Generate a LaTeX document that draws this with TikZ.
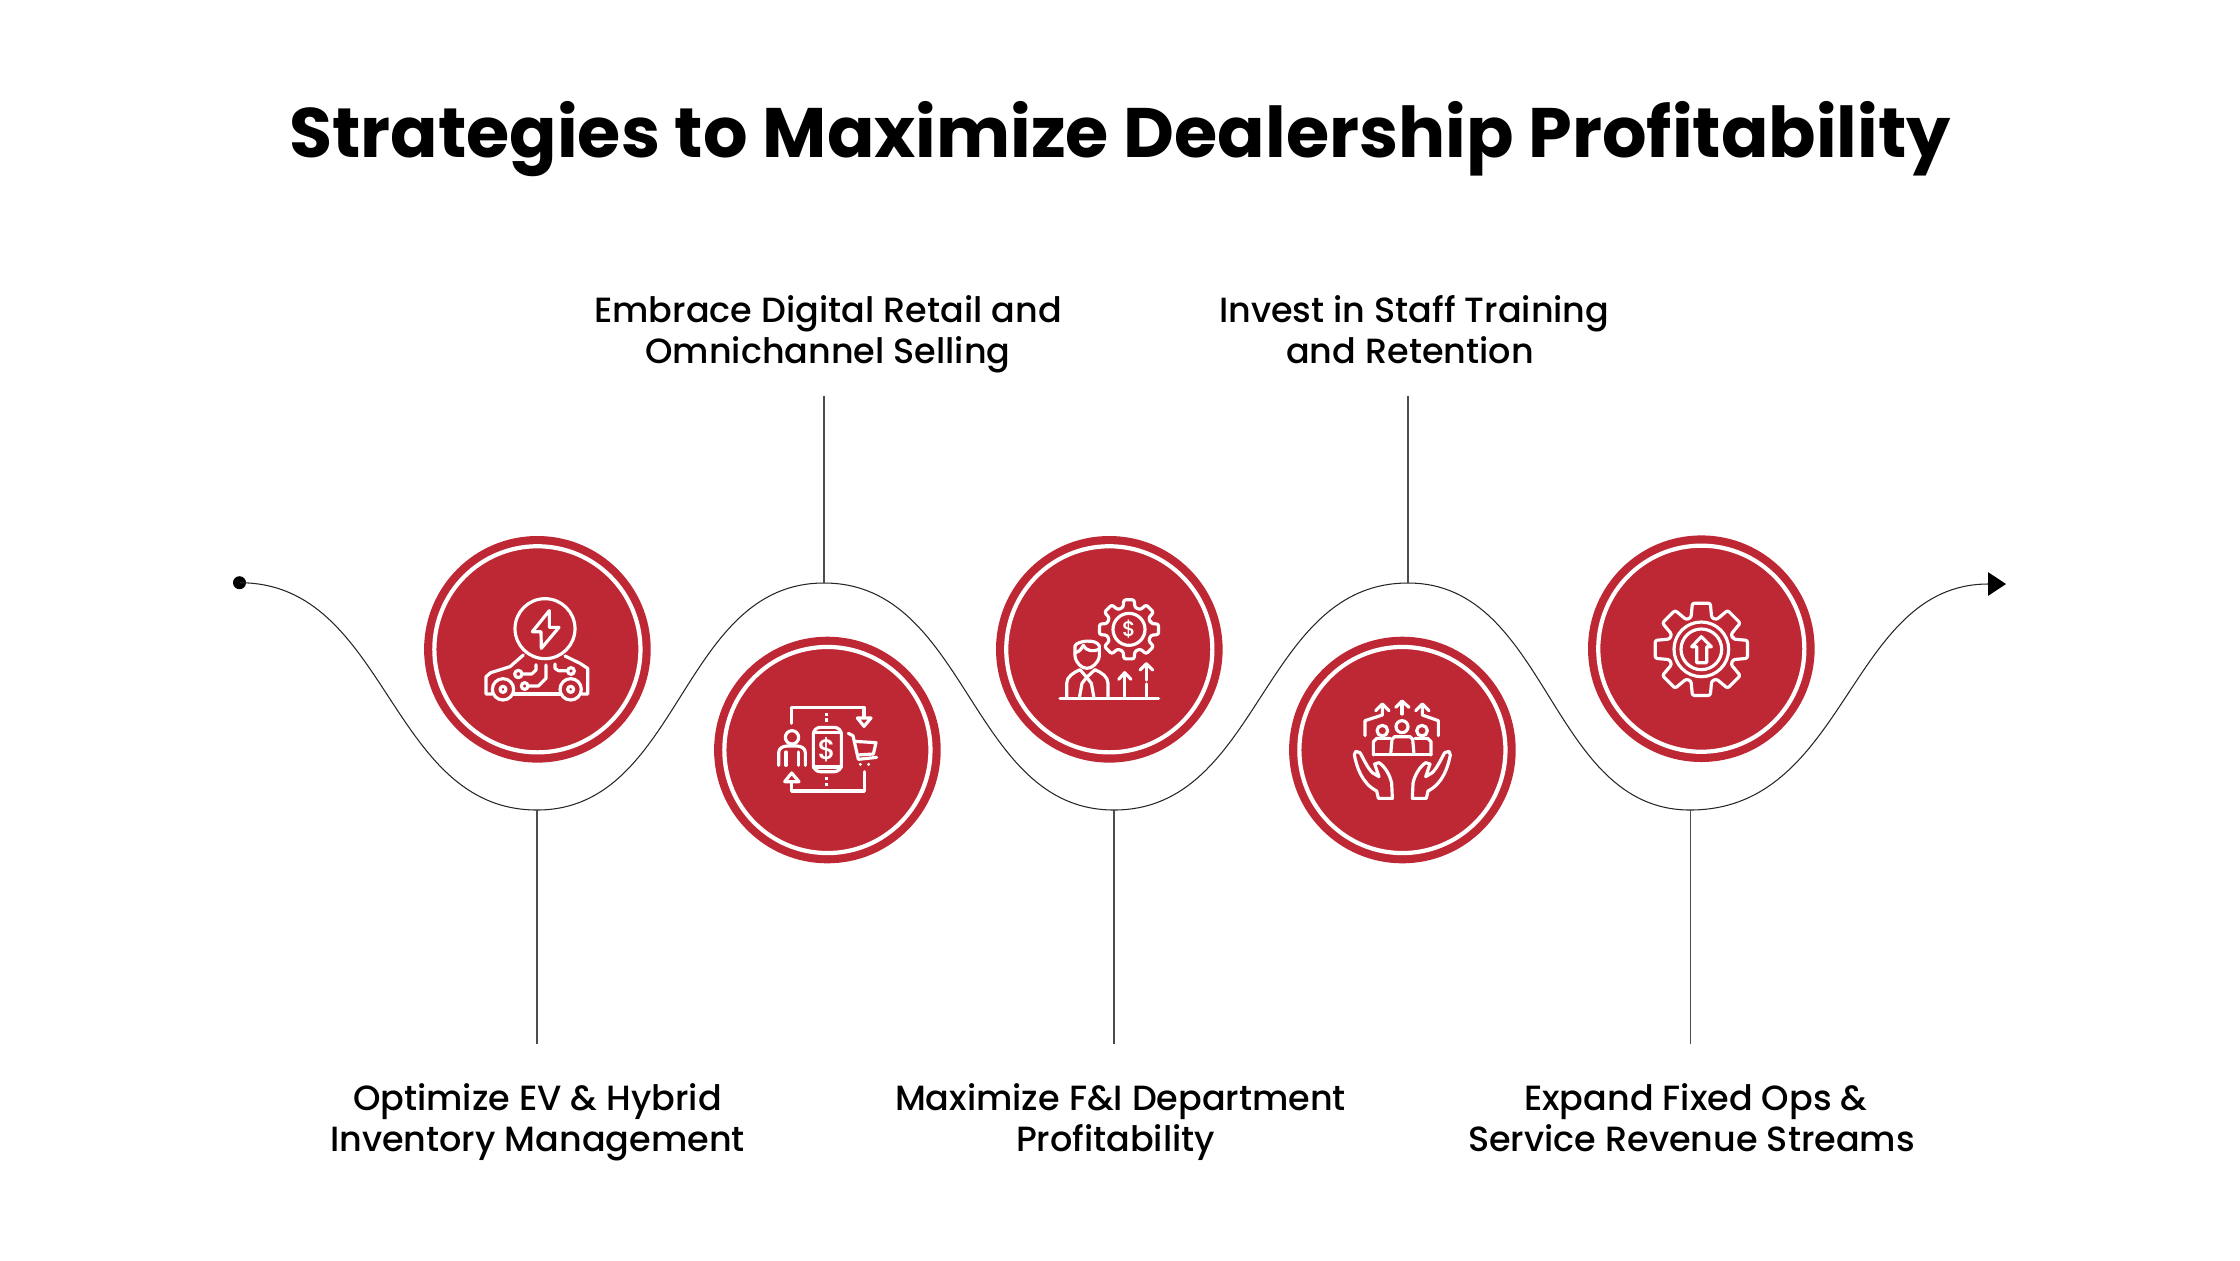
\documentclass[tikz,border=0pt]{standalone}
\usepackage{fontspec}
\setmainfont{Poppins}
\newfontfamily\stepfont{Poppins Medium}
\usetikzlibrary{arrows.meta}
\definecolor{dealred}{HTML}{BE2835}
\tikzset{
	disc/.style={circle, fill=dealred, minimum size=2.265cm, inner sep=0, outer sep=0},
	ring/.style={circle, draw=white, line width=1.2pt, minimum size=2.06cm, inner sep=0, outer sep=0},
	wave/.style={line width=0.3pt, color=black!85},
	stem/.style={line width=0.3pt, color=black!70},
	steptext/.style={align=center, font=\stepfont\fontsize{9.95}{11.6}\selectfont, inner sep=0, text=black},
	icon/.style={draw=white, line width=0.9pt, line join=round, line cap=round},
	glyph/.style={text=white, inner sep=0, font=\stepfont\fontsize{#1}{#1}\selectfont},
}
\def\gear(#1,#2)(#3:#4:#5:#6){
	\draw[icon, rounded corners=0.6pt, shift={(#1,#2)}] (-#5:#4) \foreach \a in {0,45,...,315}{ -- (\a-#5:#4) -- (\a-#6:#3) -- (\a+#6:#3) -- (\a+#5:#4) } -- cycle;
}
\begin{document}
\begin{tikzpicture}[x=0.01cm, y=-0.01cm]
			%%%%% START %%%%%
			\useasboundingbox (0, 0) rectangle (2240, 1260);
			
			\node[font=\bfseries\fontsize{19.91}{24}\selectfont, inner sep=0] (title) at (1120, 139) {Strategies to Maximize Dealership Profitability};
			
			\node[circle, fill=black, minimum size=0.13cm, inner sep=0] (dot) at (239.5, 582.7) {};
			\coordinate (low1) at (537, 810);
			\coordinate (top1) at (824, 583);
			\coordinate (low2) at (1114, 810);
			\coordinate (top2) at (1408, 583);
			\coordinate (low3) at (1690, 810);
			\coordinate (tip) at (2006, 584);
			
			\draw[wave, -{Triangle[length=0.18cm, width=0.235cm, black]}] (dot.center) .. controls +(149, 0) and +(-149, 0) .. (low1) .. controls +(144, 0) and +(-144, 0) .. (top1) .. controls +(145, 0) and +(-145, 0) .. (low2) .. controls +(147, 0) and +(-147, 0) .. (top2) .. controls +(141, 0) and +(-141, 0) .. (low3) .. controls +(158, 0) and +(-158, 0) .. (tip);
			
			\coordinate (foot1) at (537, 1044);
			\coordinate (head2) at (824, 396);
			\coordinate (foot3) at (1114, 1044);
			\coordinate (head4) at (1408, 396);
			\coordinate (foot5) at (1690, 1044);
			\draw[stem] (low1) -- (foot1);
			\draw[stem] (top1) -- (head2);
			\draw[stem] (low2) -- (foot3);
			\draw[stem] (top2) -- (head4);
			\draw[stem] (low3) -- (foot5);
			
			\node[steptext] (text1) at (537.5, 1122) {Optimize EV \& Hybrid\\Inventory Management};
			\node[steptext] (text2) at (828, 334) {Embrace Digital Retail and\\Omnichannel Selling};
			\node[steptext] (text3) at (1115.5, 1122) {\hspace*{0.1cm}Maximize F\&I Department\\Profitability};
			\node[steptext] (text4) at (1410, 329.6) {\hspace*{0.086cm}Invest in Staff Training\\and Retention};
			\node[steptext] (text5) at (1691.5, 1118) {\hspace*{0.086cm}Expand Fixed Ops \&\\Service Revenue Streams};
			
			\foreach \n/\x/\y in {1/537.4/649.3, 2/827.4/750, 3/1109.3/649.3, 4/1402.4/750, 5/1701.3/648.7}{
				\node[disc] (disc\n) at (\x, \y) {};
				\node[ring] (ring\n) at (\x, \y) {};
			}
			
			% car
			\begin{scope}[shift={(410, 520)}, scale=1/3]
				\draw[icon] (405, 326) circle (90);
				\draw[icon] (418, 272) -- (367, 335) -- (393, 335) -- (394, 385) -- (447, 322) -- (418, 322) -- cycle;
				\draw[icon] (340, 405) -- (300, 440) -- (242, 458) -- (228, 470) -- (228, 522) -- (246, 522);
				\draw[icon] (311, 522) -- (449, 522);
				\draw[icon] (515, 522) -- (533, 522) -- (533, 445) -- (510, 430) -- (465, 408);
				\draw[icon] (279, 508) circle (32);
				\draw[icon] (279, 508) circle (9);
				\draw[icon] (482, 508) circle (32);
				\draw[icon] (482, 508) circle (9);
				\draw[icon] (325, 462) circle (11);
				\draw[icon] (336, 462) -- (365, 462) -- (378, 450) -- (378, 434);
				\draw[icon] (344, 498) circle (10);
				\draw[icon] (354, 498) -- (385, 498) -- (408, 475) -- (408, 435);
				\draw[icon] (435, 432) -- (435, 445) -- (445, 452) -- (472, 452);
				\draw[icon] (483, 453) circle (10);
			\end{scope}
			
			% phone and cart
			\begin{scope}[shift={(700, 620)}, scale=1/3]
				\draw[icon] (275, 310) -- (275, 262) -- (492, 262) -- (492, 292);
				\draw[icon] (472, 294) -- (513, 294) -- (492, 319) -- cycle;
				\draw[icon] (493, 455) -- (493, 513) -- (275, 513) -- (275, 485);
				\draw[icon] (254, 485) -- (297, 485) -- (275, 459) -- cycle;
				\foreach \y in {283, 300, 475, 493}{
					\fill[white] (376, \y-5) rectangle (385, \y+5);
				}
				\draw[icon] (276, 352) circle (20);
				\draw[icon] (236, 436) -- (236, 398) .. controls (236, 385) and (248, 378) .. (262, 378) -- (290, 378) .. controls (304, 378) and (316, 385) .. (316, 398) -- (316, 436);
				\draw[icon] (258, 436) -- (258, 396);
				\draw[icon] (295, 436) -- (295, 396);
				\draw[icon, rounded corners=2pt] (340, 322) rectangle (424, 455);
				\draw[icon] (340, 338) -- (424, 338);
				\draw[icon] (340, 441) -- (424, 441);
				\node[glyph=8] (dollar2) at (380, 389) {\$};
				\draw[icon] (445, 340) -- (459, 347) -- (475, 418) -- (530, 412);
				\draw[icon] (463, 364) -- (528, 368) -- (520, 402) -- (472, 405);
				\fill[white] (481, 433) circle (5);
				\fill[white] (506, 433) circle (5);
			\end{scope}
			
			% manager and gear
			\begin{scope}[shift={(980, 520)}, scale=1/3]
				\gear(447, 328)(90:68:15:10)
				\draw[icon] (447, 328) circle (48);
				\node[glyph=6] (dollar3) at (447, 327) {\$};
				\draw[icon] (285, 378) .. controls (290, 362) and (350, 355) .. (358, 378) -- (358, 408) .. controls (355, 430) and (335, 445) .. (321, 445) .. controls (305, 445) and (288, 430) .. (285, 408) -- cycle;
				\draw[icon] (285, 398) .. controls (300, 395) and (305, 385) .. (310, 376) .. controls (320, 395) and (340, 395) .. (358, 388);
				\draw[icon] (260, 534) -- (260, 490) .. controls (260, 470) and (280, 458) .. (300, 449) -- (320, 472) -- (345, 449) .. controls (365, 458) and (384, 470) .. (384, 490) -- (384, 534);
				\draw[icon] (298, 534) -- (306, 490) -- (320, 472) -- (334, 490) -- (342, 534);
				\draw[icon] (240, 536) -- (536, 536);
				\draw[icon] (434, 530) -- (434, 458);
				\draw[icon] (416, 478) -- (434, 458) -- (453, 478);
				\draw[icon] (499, 530) -- (499, 492);
				\draw[icon] (499, 480) -- (499, 432);
				\draw[icon] (480, 450) -- (499, 431) -- (518, 450);
			\end{scope}
			
			% team in hands
			\begin{scope}[shift={(1275, 620)}, scale=1/3]
				\draw[icon] (381, 282) -- (381, 245);
				\draw[icon] (362, 262) -- (381, 243) -- (402, 262);
				\draw[icon] (270, 347) -- (270, 302) -- (322, 285) -- (322, 255);
				\draw[icon] (302, 272) -- (322, 252) -- (342, 272);
				\draw[icon] (490, 347) -- (490, 302) -- (442, 285) -- (442, 255);
				\draw[icon] (422, 272) -- (442, 252) -- (462, 272);
				\draw[icon] (322, 332) circle (16);
				\draw[icon] (381, 320) circle (18);
				\draw[icon] (441, 332) circle (16);
				\draw[icon] (295, 405) -- (295, 365) -- (305, 355) -- (345, 355);
				\draw[icon] (347, 403) -- (351, 358) -- (359, 350) -- (405, 350) -- (413, 358) -- (417, 403);
				\draw[icon] (420, 355) -- (458, 355) -- (468, 365) -- (468, 405);
				\draw[icon] (295, 404) -- (468, 404);
				\foreach \m in {0, 1}{
					\begin{scope}[shift={(\m*764, 0)}, xscale=1-2*\m]
						\draw[icon] (310, 535) -- (352, 535) -- (350, 490) .. controls (345, 465) and (330, 440) .. (312, 428) -- (299, 432) -- (312, 470) -- (292, 458) .. controls (275, 440) and (265, 415) .. (255, 398) -- (242, 394) -- (238, 405) .. controls (245, 440) and (260, 490) .. (305, 513) -- cycle;
					\end{scope}
				}
			\end{scope}
			
			% gear with arrow
			\begin{scope}[shift={(1570, 520)}, scale=1/3]
				\gear(394, 388)(141:100:18:11)
				\draw[icon] (394, 388) circle (82);
				\draw[icon] (394, 388) circle (61);
				\draw[icon] (394, 350) -- (365, 380) -- (380, 380) -- (380, 428) -- (410, 428) -- (410, 380) -- (424, 380) -- cycle;
			\end{scope}
			%%%%% END %%%%%
		\end{tikzpicture}
\end{document}
